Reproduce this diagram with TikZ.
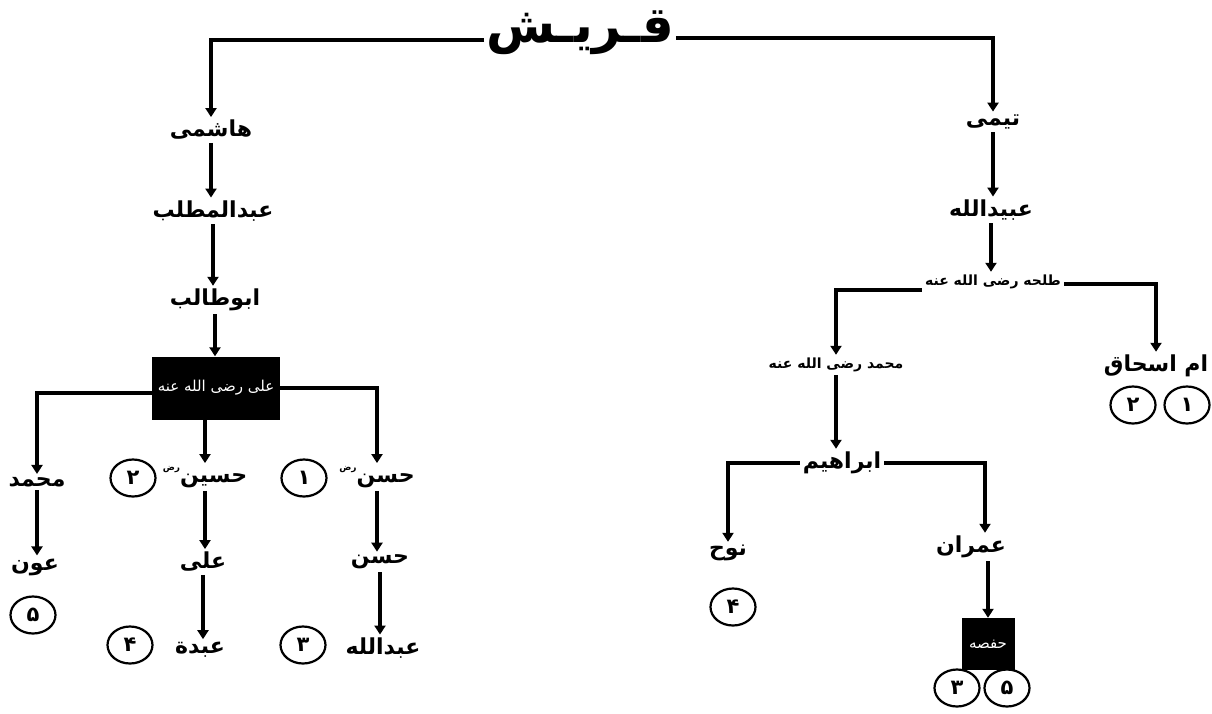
\documentclass[tikz,border=0pt]{standalone}
\usepackage{fontspec}
\usetikzlibrary{arrows.meta,shapes.geometric}
\TeXXeTstate=1
\newfontfamily\urdu[Script=Arabic]{DejaVu Sans}
\newcommand{\rl}[1]{\beginR #1\endR}
% small raised honorific mark written after a name
\newcommand{\radi}{\raisebox{12pt}{\fontsize{9}{9}\selectfont رض}}

\tikzset{
  person/.style={font=\urdu\bfseries\fontsize{22}{26}\selectfont, inner sep=3pt},
  honour/.style={font=\urdu\bfseries\fontsize{14}{17}\selectfont, inner sep=3pt},
  heading/.style={font=\urdu\bfseries\fontsize{50}{56}\selectfont, inner sep=2pt},
  blackbox/.style={fill=black, text=white, inner sep=2pt,
    minimum width=128pt, minimum height=63pt,
    font=\urdu\fontsize{15}{18}\selectfont},
  numcirc/.style={ellipse, draw, line width=2.2pt, minimum width=45pt,
    minimum height=37pt, inner sep=0pt,
    font=\urdu\bfseries\fontsize{21}{24}\selectfont},
  conn/.style={line width=3.6pt, -{Triangle[width=11pt,length=9pt]}},
}

\begin{document}
\begin{tikzpicture}[x=1pt, y={(0pt,-1pt)}]
\useasboundingbox (0,0) rectangle (1212,714);

% title
\node[heading] (title) at (580,33) {\rl{قـریـش}};

% Hashmi line
\node[person] (hashmi)   at (211,130) {\rl{هاشمی}};
\node[person] (muttalib) at (213,211) {\rl{عبدالمطلب}};
\node[person] (abutalib) at (215,300) {\rl{ابوطالب}};
\node[blackbox] (ali)    at (216,388) {\rl{علی رضی الله عنه}};

\node[person] (muh1)   at (37,482)  {\rl{محمد}};
\node[person] (husain) at (205,477) {\rl{حسین\radi}};
\node[numcirc] (n2a)   at (133,478) {۲};
\node[numcirc] (n1a)   at (304,478) {۱};
\node[person] (hasan)  at (377,477) {\rl{حسن\radi}};

\node[person] (aun)      at (35,567)  {\rl{عون}};
\node[numcirc] (n5a)     at (33,615)  {۵};
\node[person] (ali2)     at (203,562) {\rl{علی}};
\node[person] (abda)     at (200,650) {\rl{عبدة}};
\node[numcirc] (n4a)     at (130,645) {۴};
\node[person] (hasan2)   at (380,562) {\rl{حسن}};
\node[person] (abdullah) at (383,648) {\rl{عبدالله}};
\node[numcirc] (n3a)     at (303,645) {۳};

% Taimi line
\node[person] (taimi) at (993,122) {\rl{تیمی}};
\node[person] (ubaid) at (991,210) {\rl{عبیدالله}};
\node[honour] (talha) at (993,282) {\rl{طلحه رضی الله عنه}};
\node[person] (ishaq) at (1156,366) {\rl{ام اسحاق}};
\node[numcirc] (n2b)  at (1133,405) {۲};
\node[numcirc] (n1b)  at (1187,405) {۱};
\node[honour] (muh2)  at (836,365) {\rl{محمد رضی الله عنه}};
\node[person] (ibrahim) at (842,463) {\rl{ابراهیم}};
\node[person] (nuh)   at (728,553) {\rl{نوح}};
\node[numcirc] (n4b)  at (733,607) {۴};
\node[person] (imran) at (971,547) {\rl{عمران}};
\node[blackbox, minimum width=53pt, minimum height=52pt] (hafsa) at (988,644) {\rl{حفصه}};
\node[numcirc] (n3b)  at (957,688) {۳};
\node[numcirc] (n5b)  at (1007,688) {۵};

% connectors
\draw[conn] ([yshift=-7pt]title.west) -| (hashmi.north);
\draw[conn] ([yshift=-5pt]title.east) -| (taimi.north);

\draw[conn] (hashmi.south) -- (hashmi.south |- muttalib.north);
\draw[conn] (muttalib.south) -- (muttalib.south |- abutalib.north);
\draw[conn] (abutalib.south) -- (abutalib.south |- ali.north);

\draw[conn] ([yshift=-5pt]ali.west) -| (muh1.north);
\draw[conn] (ali.east) -| (hasan.north);
\draw[conn] (ali.south -| husain.north) -- (husain.north);
\draw[conn] (muh1.south) -- (muh1.south |- aun.north);
\draw[conn] (husain.south) -- (husain.south |- ali2.north);
\draw[conn] (ali2.south) -- (ali2.south |- abda.north);
\draw[conn] (hasan.south) -- (hasan.south |- hasan2.north);
\draw[conn] (hasan2.south) -- (hasan2.south |- abdullah.north);

\draw[conn] (taimi.south) -- (taimi.south |- ubaid.north);
\draw[conn] (ubaid.south) -- (ubaid.south |- talha.north);
\draw[conn] ([yshift=-8pt]talha.west) -| (muh2.north);
\draw[conn] ([yshift=-2pt]talha.east) -| (ishaq.north);
\draw[conn] (muh2.south) -- (muh2.south |- ibrahim.north);
\draw[conn] (ibrahim.west) -| (nuh.north);
\draw[conn] (ibrahim.east) -| ([xshift=14pt]imran.north);
\draw[conn] (imran.south -| hafsa.north) -- (hafsa.north);
\end{tikzpicture}
\end{document}
